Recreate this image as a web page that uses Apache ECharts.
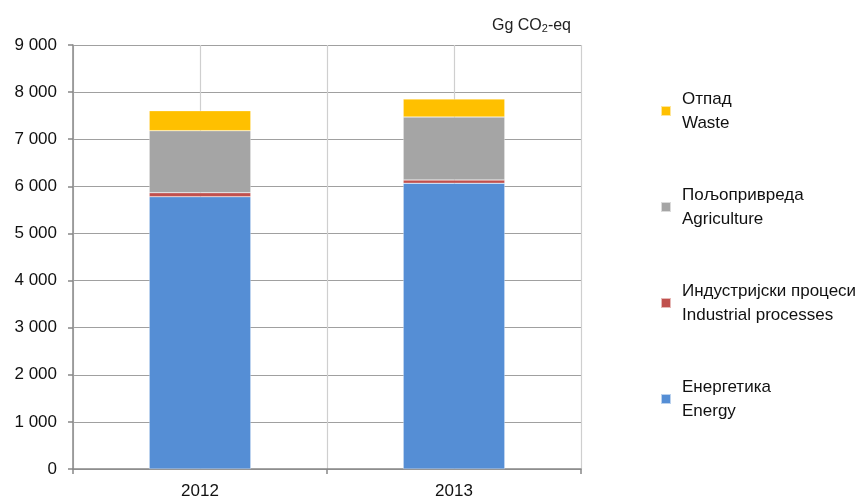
<!DOCTYPE html>
<html><head><meta charset="utf-8">
<script src="https://cdn.jsdelivr.net/npm/echarts@6/dist/echarts.min.js"></script>
<style>html,body{margin:0;padding:0;background:#fff}#c{width:861px;height:504px}</style>
</head><body><div id="c"></div>
<script>
const years = ['2012', '2013'];
const energy = [5780, 6065];
const industrial = [85, 70];
const agriculture = [1316, 1337];
const waste = [425, 382];
const names = {
  energy: 'Енергетика\nEnergy',
  industrial: 'Индустријски процеси\nIndustrial processes',
  agriculture: 'Пољопривреда\nAgriculture',
  waste: 'Отпад\nWaste'
};
const yTicks = [0, 1000, 2000, 3000, 4000, 5000, 6000, 7000, 8000, 9000];

const chart = echarts.init(document.getElementById('c'));
const font = 'Liberation Sans, Arial, sans-serif';
function bar(name, data, color) {
  return { name, type: 'bar', stack: 'total', data, barWidth: '40%',
    itemStyle: { color, borderColor: 'rgba(255,255,255,0.6)', borderWidth: 0.5 }, xAxisIndex: 0 };
}
chart.setOption({
  animation: false,
  textStyle: { fontFamily: font },
  title: {
    right: 285, top: 12,
    text: '{a|Gg CO}{b|2}{a|-eq}',
    textStyle: { fontWeight: 'normal', rich: {
      a: { fontSize: 16, color: '#222', fontFamily: font, fontWeight: 'normal' },
      b: { fontSize: 11, color: '#222', fontFamily: font, fontWeight: 'normal', padding: [6, 0, 0, 0] }
    } }
  },
  grid: { left: 73, right: 280, top: 45, bottom: 35 },
  xAxis: [{
    type: 'category', data: years,
    axisLine: { lineStyle: { color: '#888', width: 1.5 } },
    axisTick: { show: true, length: 5, lineStyle: { color: '#888', width: 1.5 } },
    axisLabel: { fontSize: 17, color: '#111', margin: 14, fontFamily: font },
    splitLine: { show: false }
  }, {
    type: 'value', min: 0, max: 4, interval: 1, show: true, position: 'bottom',
    axisLine: { show: false }, axisTick: { show: false }, axisLabel: { show: false },
    splitLine: { show: true, lineStyle: { color: '#cfcfcf', width: 1.2 } }
  }],
  yAxis: {
    type: 'value', min: 0, max: 9000, interval: 1000,
    axisLine: { show: true, lineStyle: { color: '#888', width: 1.5 } },
    axisTick: { show: true, length: 5, lineStyle: { color: '#888', width: 1.5 } },
    axisLabel: { fontSize: 17, color: '#111', margin: 16, fontFamily: font,
      formatter: v => yTicks.includes(v) ? String(v).replace(/\B(?=(\d{3})+(?!\d))/g, ' ') : '' },
    splitLine: { show: true, lineStyle: { color: '#a0a0a0', width: 1.2 } }
  },
  legend: {
    orient: 'vertical', left: 655, top: 76,
    itemWidth: 10, itemHeight: 10, itemGap: 36,
    icon: 'rect',
    data: [names.waste, names.agriculture, names.industrial, names.energy],
    textStyle: { fontSize: 17, color: '#111', lineHeight: 24, fontFamily: font, padding: [12, 0, 0, 6] }
  },
  series: [
    bar(names.energy, energy, '#558ED5'),
    bar(names.industrial, industrial, '#C0504D'),
    bar(names.agriculture, agriculture, '#A5A5A5'),
    bar(names.waste, waste, '#FFC000')
  ]
});
</script></body></html>
